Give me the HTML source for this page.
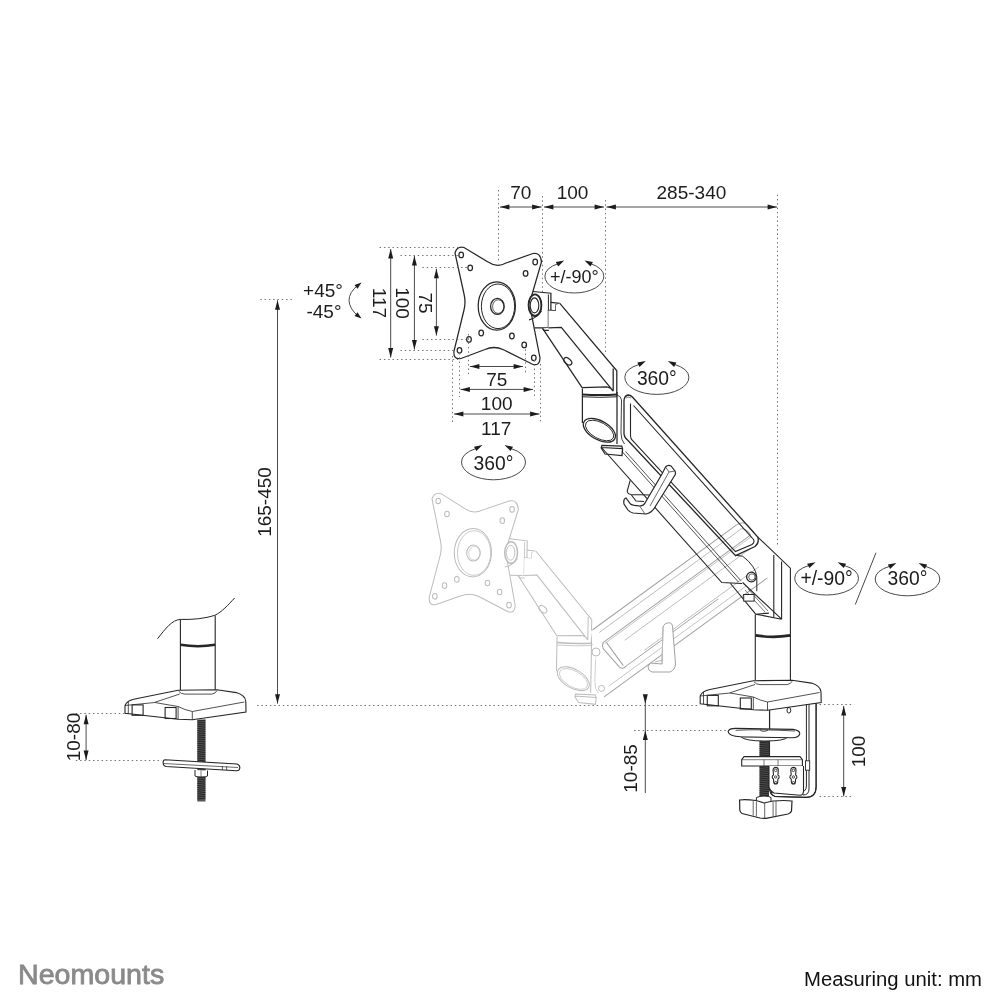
<!DOCTYPE html>
<html><head><meta charset="utf-8"><style>
html,body{margin:0;padding:0;background:#fff;}
svg{display:block;font-family:"Liberation Sans",sans-serif;will-change:transform;}
</style></head><body>
<svg width="1004" height="1004" viewBox="0 0 1004 1004">
<rect width="1004" height="1004" fill="#fff"/>
<g transform="translate(-23.8,246.75) rotate(1,500,300)"><path d="M455,253 Q457,246 464,247.5 L488,262 Q497,268 506,263 L533,253.5 Q540.5,252 541.5,262 L531,298 Q528.5,305 531,312 L540,358 Q540,366 533,364.5 L503,349.5 Q494,345.5 485,349.5 L461,358.5 Q453,360 454,351 L464,310 Q466,302 464,294 Z" fill="#fff" stroke="#bcbcbc" stroke-width="1.0"/><ellipse cx="461.2" cy="254.9" rx="2.3" ry="2.8" fill="none" stroke="#bcbcbc" stroke-width="1.0"/><ellipse cx="470.2" cy="267.8" rx="2.3" ry="2.8" fill="none" stroke="#bcbcbc" stroke-width="1.0"/><ellipse cx="535.2" cy="262" rx="2.3" ry="2.8" fill="none" stroke="#bcbcbc" stroke-width="1.0"/><ellipse cx="525.6" cy="273.4" rx="2.3" ry="2.8" fill="none" stroke="#bcbcbc" stroke-width="1.0"/><ellipse cx="481.2" cy="333" rx="2.3" ry="2.8" fill="none" stroke="#bcbcbc" stroke-width="1.0"/><ellipse cx="511.9" cy="336" rx="2.3" ry="2.8" fill="none" stroke="#bcbcbc" stroke-width="1.0"/><ellipse cx="469" cy="339.4" rx="2.3" ry="2.8" fill="none" stroke="#bcbcbc" stroke-width="1.0"/><ellipse cx="524.2" cy="344.9" rx="2.3" ry="2.8" fill="none" stroke="#bcbcbc" stroke-width="1.0"/><ellipse cx="459.5" cy="350.3" rx="2.3" ry="2.8" fill="none" stroke="#bcbcbc" stroke-width="1.0"/><ellipse cx="533.8" cy="357.8" rx="2.3" ry="2.8" fill="none" stroke="#bcbcbc" stroke-width="1.0"/><ellipse cx="496.8" cy="306" rx="18.6" ry="24.2" fill="none" stroke="#bcbcbc" stroke-width="1.0"/><ellipse cx="498" cy="306.3" rx="16.6" ry="22.3" fill="none" stroke="#bcbcbc" stroke-width="0.8"/><ellipse cx="497.4" cy="306.4" rx="6.8" ry="8" fill="none" stroke="#bcbcbc" stroke-width="1.0"/><ellipse cx="498.2" cy="306.6" rx="5.6" ry="6.8" fill="none" stroke="#bcbcbc" stroke-width="0.6"/><path d="M532.9,291.5 L550.9,293.2 L550.9,310.4 L548.4,310.4 L548.4,327.8 L534.4,327.8" fill="none" stroke="#bcbcbc" stroke-width="1.0"/><path d="M548.4,294.5 L548.4,310.4" fill="none" stroke="#bcbcbc" stroke-width="0.8"/><path d="M550.9,302.4 L559.8,303.4 M550.9,310.4 L555.8,310.9 L555.8,304.9 L559.5,305" fill="none" stroke="#bcbcbc" stroke-width="1.0"/><path d="M529,319.8 Q536,318.5 541.5,311" fill="none" stroke="#bcbcbc" stroke-width="1.0"/><ellipse cx="535" cy="305.2" rx="6.4" ry="10.8" fill="#fff" stroke="#bcbcbc" stroke-width="1.5"/><ellipse cx="534.5" cy="305.4" rx="4.3" ry="7.5" fill="none" stroke="#bcbcbc" stroke-width="0.9"/><path d="M559.8,303.4 L616.8,370.8 L616.8,396 L582.7,393 L582.1,387.6 L542.9,328.8 L548.4,327.8 L548.4,310.4 L555.8,310.9 L555.8,304.9 Z" fill="#fff" stroke="none"/><path d="M559.8,303.4 L616.8,370.8 L616.8,396 M582.1,387.6 L542.9,328.8" fill="none" stroke="#bcbcbc" stroke-width="1.0"/><path d="M548.4,327.8 L561.3,327.3 L613.2,391.2 M613.2,368.4 L613.2,391.2 M582.1,387.6 L607.2,387 Q611,387.5 613.2,391.2 M542.4,328.3 L544,330.3 L548.9,330.3" fill="none" stroke="#bcbcbc" stroke-width="1.0"/><ellipse cx="567.8" cy="361.3" rx="4.6" ry="2.8" transform="rotate(40 567.8 361.3)" fill="none" stroke="#bcbcbc" stroke-width="1.0"/><path d="M582.4,388.5 L582.4,423 M617,392 L617,444" fill="none" stroke="#bcbcbc" stroke-width="1.0"/><path d="M582.4,394.4 Q600,395.5 617,394.4" fill="none" stroke="#bcbcbc" stroke-width="1.6"/><path d="M582.4,396.8 Q600,397.8 617,396.8" fill="none" stroke="#bcbcbc" stroke-width="0.8"/><ellipse cx="599.4" cy="430.3" rx="17.6" ry="9.4" transform="rotate(29 599.4 430.3)" fill="#fff" stroke="#bcbcbc" stroke-width="1.0"/><ellipse cx="599.6" cy="430.5" rx="15.6" ry="8" transform="rotate(29 599.6 430.5)" fill="none" stroke="#bcbcbc" stroke-width="0.7"/><path d="M617,395 Q621,396 621.5,400 L621,433 Q621,440 624.5,444" fill="none" stroke="#bcbcbc" stroke-width="0.7"/><path d="M601.9,445.4 L621.8,446.2 L622.6,449 L622,455.5 L605,454 L601.2,448 Z M601.5,447.5 L622.4,448.6" fill="#fff" stroke="#bcbcbc" stroke-width="1.0"/></g>
<g transform="translate(592.4,630) rotate(-36.1)"><path d="M-2,0 L182,0 Q188,0 190,6 L196,40 L196,62 L-32,62 L-10,16 Z" fill="#fff" stroke="none"/><line x1="0" y1="0" x2="178" y2="0" stroke="#a2a2a2" stroke-width="1.0"/><line x1="4" y1="6" x2="180" y2="6" stroke="#bcbcbc" stroke-width="0.9"/><line x1="2" y1="16.5" x2="184" y2="16.5" stroke="#a2a2a2" stroke-width="1.0"/><line x1="2" y1="18.2" x2="184" y2="18.2" stroke="#bcbcbc" stroke-width="0.8"/><line x1="20" y1="27.3" x2="176" y2="27.3" stroke="#bcbcbc" stroke-width="0.9"/><line x1="30" y1="47" x2="172" y2="47" stroke="#bcbcbc" stroke-width="0.9"/><line x1="4" y1="49" x2="120" y2="49" stroke="#a2a2a2" stroke-width="0.9"/><line x1="-30" y1="61" x2="172" y2="61" stroke="#a2a2a2" stroke-width="1.0"/><line x1="-20" y1="55" x2="150" y2="55" stroke="#bcbcbc" stroke-width="0.8"/><path d="M178,0 Q186,0 187,6 L188,16.5 M180,6 Q184,8 184,16.5" fill="none" stroke="#a2a2a2" stroke-width="1"/><path d="M2,16.5 Q-3,18 -2,24 L0,46 Q1,50 6,49 M4,18.2 L4,47" fill="none" stroke="#a2a2a2" stroke-width="1"/></g>
<circle cx="601.5" cy="688.4" r="3" fill="none" stroke="#bcbcbc" stroke-width="1"/>
<circle cx="596" cy="652" r="4" fill="none" stroke="#bcbcbc" stroke-width="1"/>
<path d="M663,627 Q664,623 669.6,622.7 Q672,623 672.5,626 L675.5,664 Q675,670 670,672 L652,672 Q648,671 648,667 L650,663 L662,664 Z" fill="#fff" stroke="#a2a2a2" stroke-width="1"/>
<path d="M662,664 L663,627 M663,660 L655,662" fill="none" stroke="#bcbcbc" stroke-width="1"/>
<path d="M455,253 Q457,246 464,247.5 L488,262 Q497,268 506,263 L533,253.5 Q540.5,252 541.5,262 L531,298 Q528.5,305 531,312 L540,358 Q540,366 533,364.5 L503,349.5 Q494,345.5 485,349.5 L461,358.5 Q453,360 454,351 L464,310 Q466,302 464,294 Z" fill="#fff" stroke="#262626" stroke-width="1.25"/>
<ellipse cx="461.2" cy="254.9" rx="2.3" ry="2.8" fill="none" stroke="#262626" stroke-width="1.25"/>
<ellipse cx="470.2" cy="267.8" rx="2.3" ry="2.8" fill="none" stroke="#262626" stroke-width="1.25"/>
<ellipse cx="535.2" cy="262" rx="2.3" ry="2.8" fill="none" stroke="#262626" stroke-width="1.25"/>
<ellipse cx="525.6" cy="273.4" rx="2.3" ry="2.8" fill="none" stroke="#262626" stroke-width="1.25"/>
<ellipse cx="481.2" cy="333" rx="2.3" ry="2.8" fill="none" stroke="#262626" stroke-width="1.25"/>
<ellipse cx="511.9" cy="336" rx="2.3" ry="2.8" fill="none" stroke="#262626" stroke-width="1.25"/>
<ellipse cx="469" cy="339.4" rx="2.3" ry="2.8" fill="none" stroke="#262626" stroke-width="1.25"/>
<ellipse cx="524.2" cy="344.9" rx="2.3" ry="2.8" fill="none" stroke="#262626" stroke-width="1.25"/>
<ellipse cx="459.5" cy="350.3" rx="2.3" ry="2.8" fill="none" stroke="#262626" stroke-width="1.25"/>
<ellipse cx="533.8" cy="357.8" rx="2.3" ry="2.8" fill="none" stroke="#262626" stroke-width="1.25"/>
<ellipse cx="496.8" cy="306" rx="18.6" ry="24.2" fill="none" stroke="#262626" stroke-width="1.25"/>
<ellipse cx="498" cy="306.3" rx="16.6" ry="22.3" fill="none" stroke="#262626" stroke-width="1.0"/>
<ellipse cx="497.4" cy="306.4" rx="6.8" ry="8" fill="none" stroke="#262626" stroke-width="1.25"/>
<ellipse cx="498.2" cy="306.6" rx="5.6" ry="6.8" fill="none" stroke="#262626" stroke-width="0.75"/>
<path d="M532.9,291.5 L550.9,293.2 L550.9,310.4 L548.4,310.4 L548.4,327.8 L534.4,327.8" fill="none" stroke="#262626" stroke-width="1.25"/>
<path d="M548.4,294.5 L548.4,310.4" fill="none" stroke="#262626" stroke-width="1.0"/>
<path d="M550.9,302.4 L559.8,303.4 M550.9,310.4 L555.8,310.9 L555.8,304.9 L559.5,305" fill="none" stroke="#262626" stroke-width="1.25"/>
<path d="M529,319.8 Q536,318.5 541.5,311" fill="none" stroke="#262626" stroke-width="1.25"/>
<ellipse cx="535" cy="305.2" rx="6.4" ry="10.8" fill="#fff" stroke="#262626" stroke-width="1.875"/>
<ellipse cx="534.5" cy="305.4" rx="4.3" ry="7.5" fill="none" stroke="#262626" stroke-width="1.125"/>
<path d="M559.8,303.4 L616.8,370.8 L616.8,396 L582.7,393 L582.1,387.6 L542.9,328.8 L548.4,327.8 L548.4,310.4 L555.8,310.9 L555.8,304.9 Z" fill="#fff" stroke="none"/>
<path d="M559.8,303.4 L616.8,370.8 L616.8,396 M582.1,387.6 L542.9,328.8" fill="none" stroke="#262626" stroke-width="1.25"/>
<path d="M548.4,327.8 L561.3,327.3 L613.2,391.2 M613.2,368.4 L613.2,391.2 M582.1,387.6 L607.2,387 Q611,387.5 613.2,391.2 M542.4,328.3 L544,330.3 L548.9,330.3" fill="none" stroke="#262626" stroke-width="1.25"/>
<ellipse cx="567.8" cy="361.3" rx="4.6" ry="2.8" transform="rotate(40 567.8 361.3)" fill="none" stroke="#262626" stroke-width="1.25"/>
<path d="M582.4,388.5 L582.4,423 M617,392 L617,444" fill="none" stroke="#262626" stroke-width="1.25"/>
<path d="M582.4,394.4 Q600,395.5 617,394.4" fill="none" stroke="#262626" stroke-width="2.0"/>
<path d="M582.4,396.8 Q600,397.8 617,396.8" fill="none" stroke="#262626" stroke-width="1.0"/>
<ellipse cx="599.4" cy="430.3" rx="17.6" ry="9.4" transform="rotate(29 599.4 430.3)" fill="#fff" stroke="#262626" stroke-width="1.25"/>
<ellipse cx="599.6" cy="430.5" rx="15.6" ry="8" transform="rotate(29 599.6 430.5)" fill="none" stroke="#262626" stroke-width="0.875"/>
<path d="M617,395 Q621,396 621.5,400 L621,433 Q621,440 624.5,444" fill="none" stroke="#262626" stroke-width="0.875"/>
<path d="M601.9,445.4 L621.8,446.2 L622.6,449 L622,455.5 L605,454 L601.2,448 Z M601.5,447.5 L622.4,448.6" fill="#fff" stroke="#262626" stroke-width="1.25"/>
<path d="M602,448 L721.8,582.5 L742,583.5 M730.5,583.5 L755.7,614.2 L768.9,613.1 M742.6,582.5 L781.6,619.2 M755.7,614.2 L781.6,619.2" fill="none" stroke="#262626" stroke-width="1.1"/>
<path d="M622,451.5 L738.4,582 M625.6,451.5 L741,580.8" fill="none" stroke="#262626" stroke-width="0.8"/>
<path d="M745,590 L765,612 M748,589 L768,611" fill="none" stroke="#262626" stroke-width="0.6"/>
<path d="M628,395 Q624,396 624,401 L624,434 Q624.5,438 628,440.5 L735.6,555.6 L755,546.5 Q759.5,543 757.8,537.1 L632.4,397 Q630.5,395 628,395 Z" fill="none" stroke="#262626" stroke-width="1.3"/>
<path d="M630.5,403.5 L630.5,436 Q630.8,439 632,440 L735.4,551.5 L752,544.5 Q755,542 753.5,539.5 L633.5,405.5" fill="none" stroke="#262626" stroke-width="1.1"/>
<path d="M626,398 Q628,396 631,398" fill="none" stroke="#262626" stroke-width="0.6"/>
<path d="M757.8,537.1 L790.4,568.2 L790.4,680 M755.3,614.5 L755.3,680 M773.8,555 L773.8,617 M781.6,561.6 L781.6,619.2" fill="none" stroke="#262626" stroke-width="1.1"/>
<path d="M755.3,635.4 Q773,638.2 790.4,635.4" fill="none" stroke="#262626" stroke-width="2.7"/>
<path d="M736.3,555.4 L742.6,556.2 Q755.7,566 756.8,577 L756.8,591.2" fill="none" stroke="#262626" stroke-width="1"/>
<circle cx="751.4" cy="577" r="4.8" fill="#fff" stroke="#262626" stroke-width="1.3"/>
<circle cx="751.9" cy="577" r="3.2" fill="none" stroke="#262626" stroke-width="0.7"/>
<rect x="743.7" y="594.5" width="10.4" height="6.6" fill="#fff" stroke="#262626" stroke-width="1"/>
<path d="M630.2,480.3 L627.2,491 Q627.5,494 631,494.5 L650,495 M631,494.5 L636,501 L644,501.5" fill="none" stroke="#262626" stroke-width="1.1"/>
<path d="M662,474 L665.5,467 Q668,464.5 671,466 L675,471 Q676,473 675,475 L654.7,507.5 Q651.5,513 646,514 L633,513 Q630,512.5 628,510 L624,504 Q623,499 626,498 L630.5,504 Q632,505.5 640,506 Q644,505.5 645,503 Z" fill="#fff" stroke="#262626" stroke-width="1.2"/>
<path d="M639.7,506 L645,514 M665.5,467 L669,472 L675,471 M669,472 L650,506" fill="none" stroke="#262626" stroke-width="0.7"/>
<path d="M806.4,703 L806.4,786 Q806.4,792 800,792 L772,791 Q769.5,789 769.5,785 L769.5,703 M809,703 L809,789 Q809,795 803,795 M816.1,703 L816.1,787 Q816.1,797.4 806,797.4 L775,796.5 Q771,795 771,791" fill="#fff" stroke="#262626" stroke-width="1"/>
<path d="M806.4,703 L816.1,703 L816.1,787 Q816.1,797.4 806,797.4 L775,796.5 Q769.5,795 769.5,788 L769.5,703" fill="none" stroke="#262626" stroke-width="1.1"/>
<rect x="805.5" y="760.8" width="4.2" height="9.4" fill="#fff" stroke="#262626" stroke-width="0.9"/>
<path d="M700.2,703.8 L700.2,696 Q702,691 710,689.5 L753.3,680.8 L792,680.2 L811.5,683.1 Q820.6,686 821,692 L821.2,702.5 L767.5,710.3 L753.3,709.7 Z" fill="#fff" stroke="#262626" stroke-width="1.1"/>
<path d="M700.2,696 L730,693 L753.3,697 Q760,700.5 767.5,702 L819.5,692.5 M767.5,702 L767.5,710.3 M753.3,697 L753.3,709.7 M730,692.8 L755,684.5 M753.9,681.8 Q756,684.5 760,684.6 L787,684.6 Q791,684 792.1,681.2 M703.5,692 L703.5,704" fill="none" stroke="#262626" stroke-width="0.8"/>
<rect x="707.3" y="695.4" width="11" height="10.4" fill="none" stroke="#262626" stroke-width="1.1"/>
<rect x="740.3" y="698" width="11" height="11" fill="none" stroke="#262626" stroke-width="1.1"/>
<ellipse cx="788.9" cy="710.3" rx="1.9" ry="2.8" fill="none" stroke="#262626" stroke-width="1"/>
<rect x="759.5" y="738" width="9.5" height="60" fill="#505050"/>
<g stroke="#1a1a1a" stroke-width="0.8"><line x1="759.5" y1="739.0" x2="769" y2="738.2"/><line x1="759.5" y1="740.9" x2="769" y2="740.1"/><line x1="759.5" y1="742.8" x2="769" y2="742.0"/><line x1="759.5" y1="744.7" x2="769" y2="743.9"/><line x1="759.5" y1="746.6" x2="769" y2="745.8"/><line x1="759.5" y1="748.5" x2="769" y2="747.7"/><line x1="759.5" y1="750.4" x2="769" y2="749.6"/><line x1="759.5" y1="752.3" x2="769" y2="751.5"/><line x1="759.5" y1="754.2" x2="769" y2="753.4"/><line x1="759.5" y1="756.1" x2="769" y2="755.3"/><line x1="759.5" y1="758.0" x2="769" y2="757.2"/><line x1="759.5" y1="759.9" x2="769" y2="759.1"/><line x1="759.5" y1="761.8" x2="769" y2="761.0"/><line x1="759.5" y1="763.7" x2="769" y2="762.9"/><line x1="759.5" y1="765.6" x2="769" y2="764.8"/><line x1="759.5" y1="767.5" x2="769" y2="766.7"/><line x1="759.5" y1="769.4" x2="769" y2="768.6"/><line x1="759.5" y1="771.3" x2="769" y2="770.5"/><line x1="759.5" y1="773.2" x2="769" y2="772.4"/><line x1="759.5" y1="775.1" x2="769" y2="774.3"/><line x1="759.5" y1="777.0" x2="769" y2="776.2"/><line x1="759.5" y1="778.9" x2="769" y2="778.1"/><line x1="759.5" y1="780.8" x2="769" y2="780.0"/><line x1="759.5" y1="782.7" x2="769" y2="781.9"/><line x1="759.5" y1="784.6" x2="769" y2="783.8"/><line x1="759.5" y1="786.5" x2="769" y2="785.7"/><line x1="759.5" y1="788.4" x2="769" y2="787.6"/><line x1="759.5" y1="790.3" x2="769" y2="789.5"/><line x1="759.5" y1="792.2" x2="769" y2="791.4"/><line x1="759.5" y1="794.1" x2="769" y2="793.3"/><line x1="759.5" y1="796.0" x2="769" y2="795.2"/></g>
<path d="M740.7,736.7 Q745,741 764.7,741 Q785,741 787.8,737 Z" fill="#fff" stroke="#262626" stroke-width="1"/>
<path d="M728.1,731.5 Q729,728.4 735.5,728.4 L793,729.4 Q799.8,730.5 799.8,733.6 Q799,737.6 792,737.8 L740.7,736.8 Q728.5,736 728.1,731.5 Z" fill="#fff" stroke="#262626" stroke-width="1.1"/>
<path d="M735.5,730.3 Q760,729 795,731 M760,729.8 Q763,733 768,730" fill="none" stroke="#262626" stroke-width="0.8"/>
<path d="M744,756.6 L800,756.6 L802.4,759.7 L802.4,766 L741.7,766 L741.7,759.7 Z" fill="#fff" stroke="#262626" stroke-width="1.1"/>
<path d="M741.7,759.7 L802.4,759.7 M764,759.7 L764,766 M778,759.7 L778,766" fill="none" stroke="#262626" stroke-width="0.6"/>
<path d="M769,766 L769,787 Q770,791 774,793 L800,795.3 Q803.5,795 803.5,791 L803.5,766" fill="#fff" stroke="#262626" stroke-width="1.1"/>
<path d="M773.1,770 a2.6,2.6 0 1,1 5.2,0 L777.9000000000001,775 a2.2,2.2 0 0,1 0,4 L777.7,782 a2,2 0 1,1 -4,0 L773.5,779 a2.2,2.2 0 0,1 0,-4 Z" fill="#fff" stroke="#262626" stroke-width="1.1"/>
<circle cx="775.7" cy="770.3" r="1.3" fill="none" stroke="#262626" stroke-width="0.8"/><circle cx="775.7" cy="777" r="1.2" fill="none" stroke="#262626" stroke-width="0.8"/><circle cx="775.7" cy="782.5" r="1.1" fill="none" stroke="#262626" stroke-width="0.8"/>
<path d="M790.8,770 a2.6,2.6 0 1,1 5.2,0 L795.6,775 a2.2,2.2 0 0,1 0,4 L795.4,782 a2,2 0 1,1 -4,0 L791.1999999999999,779 a2.2,2.2 0 0,1 0,-4 Z" fill="#fff" stroke="#262626" stroke-width="1.1"/>
<circle cx="793.4" cy="770.3" r="1.3" fill="none" stroke="#262626" stroke-width="0.8"/><circle cx="793.4" cy="777" r="1.2" fill="none" stroke="#262626" stroke-width="0.8"/><circle cx="793.4" cy="782.5" r="1.1" fill="none" stroke="#262626" stroke-width="0.8"/>
<path d="M756.4,802.6 L756.4,797.5 Q760,796 764,796 Q769,796 771,797.5 L771,802.6" fill="#fff" stroke="#262626" stroke-width="1"/>
<path d="M739.6,800 Q745,799 756,800.5 L764,803 L773,801 Q785,800 792,801 L791.5,811 Q791,813 788,814 L766,818.3 Q763,818.5 760,818 L742,813.5 Q740,812 739.8,810 Z" fill="#fff" stroke="#262626" stroke-width="1.2"/>
<path d="M753.2,801 L753.2,815.5 M756.4,801.5 L756.4,816.5 M764.7,803 L764.7,818.3 M773.1,801.5 L773.1,816.5 M776,801 L776,816" fill="none" stroke="#262626" stroke-width="0.7"/>
<line x1="769.7" y1="710" x2="769.7" y2="729" stroke="#262626" stroke-width="0.8" />
<path d="M157.5,638.8 C166,628 172,620 180.4,619.4 Q200,620 214.7,615.4 C222,612 228,605 234.6,598" fill="none" stroke="#262626" stroke-width="1"/>
<path d="M180.4,619.4 L180.4,690 M215.2,615.4 L215.2,690" fill="none" stroke="#262626" stroke-width="1.1"/>
<path d="M180.4,644.8 Q198,647.6 215.2,644.8" fill="none" stroke="#262626" stroke-width="2.6"/>
<path d="M755.3,634.6 Q773,636.8 790.4,634.6" fill="none" stroke="#fff" stroke-width="0"/>
<g transform="translate(-575.2,9.5)"><path d="M700.2,703.8 L700.2,696 Q702,691 710,689.5 L753.3,680.8 L792,680.2 L811.5,683.1 Q820.6,686 821,692 L821.2,702.5 L767.5,710.3 L753.3,709.7 Z" fill="#fff" stroke="#262626" stroke-width="1.1"/><path d="M700.2,696 L730,693 L753.3,697 Q760,700.5 767.5,702 L819.5,692.5 M767.5,702 L767.5,710.3 M753.3,697 L753.3,709.7 M730,692.8 L755,684.5 M753.9,681.8 Q756,684.5 760,684.6 L787,684.6 Q791,684 792.1,681.2 M703.5,692 L703.5,704" fill="none" stroke="#262626" stroke-width="0.8"/><rect x="707.3" y="695.4" width="11" height="10.4" fill="none" stroke="#262626" stroke-width="1.1"/><rect x="740.3" y="698" width="11" height="11" fill="none" stroke="#262626" stroke-width="1.1"/></g>
<rect x="197.3" y="719.5" width="8.2" height="82" fill="#555"/>
<g stroke="#1a1a1a" stroke-width="0.8"><line x1="197.3" y1="721.0" x2="205.5" y2="720.2"/><line x1="197.3" y1="722.9" x2="205.5" y2="722.1"/><line x1="197.3" y1="724.8" x2="205.5" y2="724.0"/><line x1="197.3" y1="726.7" x2="205.5" y2="725.9"/><line x1="197.3" y1="728.6" x2="205.5" y2="727.8"/><line x1="197.3" y1="730.5" x2="205.5" y2="729.7"/><line x1="197.3" y1="732.4" x2="205.5" y2="731.6"/><line x1="197.3" y1="734.3" x2="205.5" y2="733.5"/><line x1="197.3" y1="736.2" x2="205.5" y2="735.4"/><line x1="197.3" y1="738.1" x2="205.5" y2="737.3"/><line x1="197.3" y1="740.0" x2="205.5" y2="739.2"/><line x1="197.3" y1="741.9" x2="205.5" y2="741.1"/><line x1="197.3" y1="743.8" x2="205.5" y2="743.0"/><line x1="197.3" y1="745.7" x2="205.5" y2="744.9"/><line x1="197.3" y1="747.6" x2="205.5" y2="746.8"/><line x1="197.3" y1="749.5" x2="205.5" y2="748.7"/><line x1="197.3" y1="751.4" x2="205.5" y2="750.6"/><line x1="197.3" y1="753.3" x2="205.5" y2="752.5"/><line x1="197.3" y1="755.2" x2="205.5" y2="754.4"/><line x1="197.3" y1="757.1" x2="205.5" y2="756.3"/><line x1="197.3" y1="759.0" x2="205.5" y2="758.2"/><line x1="197.3" y1="760.9" x2="205.5" y2="760.1"/><line x1="197.3" y1="762.8" x2="205.5" y2="762.0"/><line x1="197.3" y1="764.7" x2="205.5" y2="763.9"/><line x1="197.3" y1="766.6" x2="205.5" y2="765.8"/><line x1="197.3" y1="768.5" x2="205.5" y2="767.7"/><line x1="197.3" y1="770.4" x2="205.5" y2="769.6"/><line x1="197.3" y1="772.3" x2="205.5" y2="771.5"/><line x1="197.3" y1="774.2" x2="205.5" y2="773.4"/><line x1="197.3" y1="776.1" x2="205.5" y2="775.3"/><line x1="197.3" y1="778.0" x2="205.5" y2="777.2"/><line x1="197.3" y1="779.9" x2="205.5" y2="779.1"/><line x1="197.3" y1="781.8" x2="205.5" y2="781.0"/><line x1="197.3" y1="783.7" x2="205.5" y2="782.9"/><line x1="197.3" y1="785.6" x2="205.5" y2="784.8"/><line x1="197.3" y1="787.5" x2="205.5" y2="786.7"/><line x1="197.3" y1="789.4" x2="205.5" y2="788.6"/><line x1="197.3" y1="791.3" x2="205.5" y2="790.5"/><line x1="197.3" y1="793.2" x2="205.5" y2="792.4"/><line x1="197.3" y1="795.1" x2="205.5" y2="794.3"/><line x1="197.3" y1="797.0" x2="205.5" y2="796.2"/><line x1="197.3" y1="798.9" x2="205.5" y2="798.1"/></g>
<path d="M165,759.8 L237,764 Q240,765 239.8,768 Q239.5,771 236.3,770.8 L166,766.5 Q163.1,766 163.1,762.5 Q163.3,759.8 165,759.8 Z" fill="#fff" stroke="#262626" stroke-width="1.1"/>
<path d="M163.5,763.5 L238,767.5 M222.4,766 L222.4,770 M226.6,766.2 L226.6,770.3" fill="none" stroke="#262626" stroke-width="0.7"/>
<path d="M195,770 L195,776 Q196,777 201,777 Q206.5,777 207.5,776 L207.5,770.5" fill="#fff" stroke="#262626" stroke-width="1"/>
<path d="M201,770.5 L201,777" stroke="#262626" stroke-width="0.6"/>
<line x1="498.5" y1="190" x2="498.5" y2="262" stroke="#767676" stroke-width="1.0" stroke-dasharray="1.5 2.8"/>
<line x1="542.5" y1="196" x2="542.5" y2="293" stroke="#767676" stroke-width="1.0" stroke-dasharray="1.5 2.8"/>
<line x1="605.5" y1="200" x2="605.5" y2="353" stroke="#767676" stroke-width="1.0" stroke-dasharray="1.5 2.8"/>
<line x1="777.5" y1="194.7" x2="777.5" y2="545" stroke="#767676" stroke-width="1.0" stroke-dasharray="1.5 2.8"/>
<line x1="500" y1="207" x2="541.5" y2="207" stroke="#4a4a4a" stroke-width="1.0" />
<polygon points="500.0,207.0 509.4,204.5 509.4,209.5" fill="#1c1c1c"/>
<polygon points="541.5,207.0 532.1,209.5 532.1,204.5" fill="#1c1c1c"/>
<line x1="544" y1="207" x2="604" y2="207" stroke="#4a4a4a" stroke-width="1.0" />
<polygon points="544.0,207.0 553.4,204.5 553.4,209.5" fill="#1c1c1c"/>
<polygon points="604.0,207.0 594.6,209.5 594.6,204.5" fill="#1c1c1c"/>
<line x1="606.5" y1="207" x2="777" y2="207" stroke="#4a4a4a" stroke-width="1.0" />
<polygon points="606.5,207.0 615.9,204.5 615.9,209.5" fill="#1c1c1c"/>
<polygon points="777.0,207.0 767.6,209.5 767.6,204.5" fill="#1c1c1c"/>
<text x="520.8" y="199" font-size="19" text-anchor="middle" fill="#1c1c1c" >70</text>
<text x="572.6" y="199" font-size="19" text-anchor="middle" fill="#1c1c1c" >100</text>
<text x="691.4" y="198.5" font-size="19" text-anchor="middle" fill="#1c1c1c" >285-340</text>
<line x1="379.6" y1="247.5" x2="460" y2="247.5" stroke="#767676" stroke-width="1.0" stroke-dasharray="1.5 2.8"/>
<line x1="379.6" y1="359.5" x2="458" y2="359.5" stroke="#767676" stroke-width="1.0" stroke-dasharray="1.5 2.8"/>
<line x1="400.5" y1="255.5" x2="458" y2="255.5" stroke="#767676" stroke-width="1.0" stroke-dasharray="1.5 2.8"/>
<line x1="400.5" y1="350.5" x2="456" y2="350.5" stroke="#767676" stroke-width="1.0" stroke-dasharray="1.5 2.8"/>
<line x1="422.4" y1="267.5" x2="467" y2="267.5" stroke="#767676" stroke-width="1.0" stroke-dasharray="1.5 2.8"/>
<line x1="422.4" y1="339.5" x2="466" y2="339.5" stroke="#767676" stroke-width="1.0" stroke-dasharray="1.5 2.8"/>
<line x1="390.7" y1="249" x2="390.7" y2="357.5" stroke="#4a4a4a" stroke-width="1.0" />
<polygon points="390.7,249.0 393.2,258.4 388.2,258.4" fill="#1c1c1c"/>
<polygon points="390.7,357.5 388.2,348.1 393.2,348.1" fill="#1c1c1c"/>
<line x1="414.4" y1="256" x2="414.4" y2="349.5" stroke="#4a4a4a" stroke-width="1.0" />
<polygon points="414.4,256.0 416.9,265.4 411.9,265.4" fill="#1c1c1c"/>
<polygon points="414.4,349.5 411.9,340.1 416.9,340.1" fill="#1c1c1c"/>
<line x1="436.4" y1="268.8" x2="436.4" y2="335.6" stroke="#4a4a4a" stroke-width="1.0" />
<polygon points="436.4,268.8 438.9,278.2 433.9,278.2" fill="#1c1c1c"/>
<polygon points="436.4,335.6 433.9,326.2 438.9,326.2" fill="#1c1c1c"/>
<text x="0" y="0" font-size="19" text-anchor="middle" fill="#1c1c1c" transform="translate(379,303) rotate(90)" dominant-baseline="central" >117</text>
<text x="0" y="0" font-size="19" text-anchor="middle" fill="#1c1c1c" transform="translate(402,303) rotate(90)" dominant-baseline="central" >100</text>
<text x="0" y="0" font-size="19" text-anchor="middle" fill="#1c1c1c" transform="translate(425,303) rotate(90)" dominant-baseline="central" >75</text>
<line x1="468.5" y1="334" x2="468.5" y2="375" stroke="#767676" stroke-width="1.0" stroke-dasharray="1.5 2.8"/>
<line x1="525.5" y1="345" x2="525.5" y2="375" stroke="#767676" stroke-width="1.0" stroke-dasharray="1.5 2.8"/>
<line x1="459.5" y1="353" x2="459.5" y2="397" stroke="#767676" stroke-width="1.0" stroke-dasharray="1.5 2.8"/>
<line x1="534.5" y1="360" x2="534.5" y2="397" stroke="#767676" stroke-width="1.0" stroke-dasharray="1.5 2.8"/>
<line x1="452.5" y1="356" x2="452.5" y2="423.6" stroke="#767676" stroke-width="1.0" stroke-dasharray="1.5 2.8"/>
<line x1="540.5" y1="364" x2="540.5" y2="423" stroke="#767676" stroke-width="1.0" stroke-dasharray="1.5 2.8"/>
<line x1="470" y1="366.5" x2="523" y2="366.5" stroke="#4a4a4a" stroke-width="1.0" />
<polygon points="470.0,366.5 479.4,364.0 479.4,369.0" fill="#1c1c1c"/>
<polygon points="523.0,366.5 513.6,369.0 513.6,364.0" fill="#1c1c1c"/>
<line x1="460.5" y1="389.4" x2="533" y2="389.4" stroke="#4a4a4a" stroke-width="1.0" />
<polygon points="460.5,389.4 469.9,386.9 469.9,391.9" fill="#1c1c1c"/>
<polygon points="533.0,389.4 523.6,391.9 523.6,386.9" fill="#1c1c1c"/>
<line x1="454" y1="414" x2="539.5" y2="414" stroke="#4a4a4a" stroke-width="1.0" />
<polygon points="454.0,414.0 463.4,411.5 463.4,416.5" fill="#1c1c1c"/>
<polygon points="539.5,414.0 530.1,416.5 530.1,411.5" fill="#1c1c1c"/>
<text x="496.7" y="386" font-size="19" text-anchor="middle" fill="#1c1c1c" >75</text>
<text x="496.7" y="409.8" font-size="19" text-anchor="middle" fill="#1c1c1c" >100</text>
<text x="496.2" y="434.8" font-size="19" text-anchor="middle" fill="#1c1c1c" >117</text>
<text x="323" y="297" font-size="19" text-anchor="middle" fill="#1c1c1c" >+45°</text>
<text x="324" y="317.5" font-size="19" text-anchor="middle" fill="#1c1c1c" >-45°</text>
<path d="M358,285 Q340,300 358,316" fill="none" stroke="#4a4a4a" stroke-width="1"/>
<polygon points="361.5,282.5 357.5,288.7 354.5,285.0" fill="#1c1c1c"/>
<polygon points="361.5,318.5 354.5,316.0 357.5,312.3" fill="#1c1c1c"/>
<path d="M558.3,263.6 A29.45,15.15 0 0 0 544.9,276.3 A29.45,16.7 0 0 0 603.8,276.3 A29.45,15.15 0 0 0 590.4,263.6" fill="none" stroke="#4a4a4a" stroke-width="1"/>
<polygon points="564.2,260.4 558.2,266.5 555.8,262.1" fill="#1c1c1c"/>
<polygon points="584.5,260.4 592.9,262.1 590.5,266.5" fill="#1c1c1c"/>
<text x="574.35" y="283.4" font-size="18" text-anchor="middle" fill="#1c1c1c" >+/-90°</text>
<path d="M639.4,364.3 A32.05,15.51 0 0 0 624.8,377.3 A32.05,17.1 0 0 0 688.9,377.3 A32.05,15.51 0 0 0 674.3,364.3" fill="none" stroke="#4a4a4a" stroke-width="1"/>
<polygon points="645.8,361.1 639.6,367.0 637.3,362.5" fill="#1c1c1c"/>
<polygon points="667.9,361.1 676.4,362.5 674.1,367.0" fill="#1c1c1c"/>
<text x="656.85" y="384.5" font-size="19.3" text-anchor="middle" fill="#1c1c1c" >360°</text>
<path d="M476.1,448.5 A32,16.14 0 0 0 461.5,462 A32,17.8 0 0 0 525.5,462 A32,16.14 0 0 0 510.9,448.5" fill="none" stroke="#4a4a4a" stroke-width="1"/>
<polygon points="482.5,445.1 476.4,451.1 474.0,446.7" fill="#1c1c1c"/>
<polygon points="504.5,445.1 513.0,446.7 510.6,451.1" fill="#1c1c1c"/>
<text x="493.5" y="469.9" font-size="19.3" text-anchor="middle" fill="#1c1c1c" >360°</text>
<path d="M809.2,565.4 A31.9,15.24 0 0 0 794.7,578.2 A31.9,16.8 0 0 0 858.5,578.2 A31.9,15.24 0 0 0 844.0,565.4" fill="none" stroke="#4a4a4a" stroke-width="1"/>
<polygon points="815.6,562.2 809.4,568.1 807.1,563.7" fill="#1c1c1c"/>
<polygon points="837.6,562.2 846.1,563.7 843.8,568.1" fill="#1c1c1c"/>
<text x="826.6" y="585.4" font-size="19.3" text-anchor="middle" fill="#1c1c1c" >+/-90°</text>
<path d="M889.9,566.2 A32.3,15.24 0 0 0 875.2,579 A32.3,16.8 0 0 0 939.8,579 A32.3,15.24 0 0 0 925.1,566.2" fill="none" stroke="#4a4a4a" stroke-width="1"/>
<polygon points="896.4,563.0 890.1,568.9 887.9,564.4" fill="#1c1c1c"/>
<polygon points="918.6,563.0 927.1,564.4 924.9,568.9" fill="#1c1c1c"/>
<text x="907.5" y="585.4" font-size="19.3" text-anchor="middle" fill="#1c1c1c" >360°</text>
<line x1="876" y1="552.7" x2="855.3" y2="604.5" stroke="#4a4a4a" stroke-width="1" />
<line x1="260.3" y1="299.5" x2="292.6" y2="299.5" stroke="#767676" stroke-width="1.0" stroke-dasharray="1.5 2.8"/>
<line x1="277.5" y1="300.3" x2="277.5" y2="703.6" stroke="#4a4a4a" stroke-width="1.0" />
<polygon points="277.5,300.3 280.0,309.7 275.0,309.7" fill="#1c1c1c"/>
<polygon points="277.5,703.6 275.0,694.2 280.0,694.2" fill="#1c1c1c"/>
<line x1="257" y1="705.5" x2="700" y2="705.5" stroke="#767676" stroke-width="1.0" stroke-dasharray="1.5 2.8"/>
<text x="0" y="0" font-size="19" text-anchor="middle" fill="#1c1c1c" transform="translate(264.2,502) rotate(-90)" dominant-baseline="central" >165-450</text>
<line x1="75.8" y1="713.5" x2="124.6" y2="713.5" stroke="#767676" stroke-width="1.0" stroke-dasharray="1.5 2.8"/>
<line x1="75.8" y1="760.5" x2="162" y2="760.5" stroke="#767676" stroke-width="1.0" stroke-dasharray="1.5 2.8"/>
<line x1="86.1" y1="714.8" x2="86.1" y2="760" stroke="#4a4a4a" stroke-width="1.0" />
<polygon points="86.1,714.8 88.6,724.2 83.6,724.2" fill="#1c1c1c"/>
<polygon points="86.1,760.0 83.6,750.6 88.6,750.6" fill="#1c1c1c"/>
<text x="0" y="0" font-size="19" text-anchor="middle" fill="#1c1c1c" transform="translate(73,737) rotate(-90)" dominant-baseline="central" >10-80</text>
<line x1="634" y1="730.5" x2="728" y2="730.5" stroke="#767676" stroke-width="1.0" stroke-dasharray="1.5 2.8"/>
<line x1="645.3" y1="694.9" x2="645.3" y2="793" stroke="#4a4a4a" stroke-width="1.0" />
<polygon points="645.3,703.7 642.8,694.3 647.8,694.3" fill="#1c1c1c"/>
<polygon points="645.3,730.5 647.8,739.9 642.8,739.9" fill="#1c1c1c"/>
<text x="0" y="0" font-size="19" text-anchor="middle" fill="#1c1c1c" transform="translate(630.8,768.4) rotate(-90)" dominant-baseline="central" >10-85</text>
<line x1="819.6" y1="704.5" x2="854.2" y2="704.5" stroke="#767676" stroke-width="1.0" stroke-dasharray="1.5 2.8"/>
<line x1="819.6" y1="796.5" x2="854.2" y2="796.5" stroke="#767676" stroke-width="1.0" stroke-dasharray="1.5 2.8"/>
<line x1="843.7" y1="706.1" x2="843.7" y2="796.3" stroke="#4a4a4a" stroke-width="1.0" />
<polygon points="843.7,706.1 846.2,715.5 841.2,715.5" fill="#1c1c1c"/>
<polygon points="843.7,796.3 841.2,786.9 846.2,786.9" fill="#1c1c1c"/>
<text x="0" y="0" font-size="19" text-anchor="middle" fill="#1c1c1c" transform="translate(858,751.5) rotate(-90)" dominant-baseline="central" >100</text>
<text x="18" y="984.4" font-size="27" fill="#8a8a8a" stroke="#8a8a8a" stroke-width="0.8" textLength="146.2" lengthAdjust="spacingAndGlyphs">Neomounts</text>
<text x="804" y="985.8" font-size="19.4" fill="#111" textLength="178" lengthAdjust="spacingAndGlyphs">Measuring unit: mm</text>
</svg>
</body></html>
